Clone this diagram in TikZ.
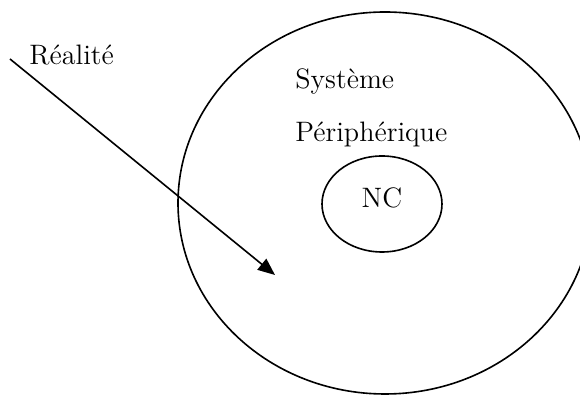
\documentclass[tikz,border=0pt]{standalone}
\usepackage{xcolor}
\usetikzlibrary{arrows.meta,shapes.geometric}
\definecolor{sketchink}{HTML}{000000}

\begin{document}
\begin{tikzpicture}[
  x=1cm,
  y=1cm,
  every node/.style={font=\fontsize{14}{17}\selectfont, sketchink},
  ring/.style={ellipse, draw=sketchink, line width=0.8pt, inner sep=0pt},
  flow/.style={sketchink, line width=0.8pt, -{Triangle[length=8.5pt, width=7pt]}},
  lab/.style={anchor=base west, inner sep=0pt}
]
  % ---- common bounding box, the page of the figure ----
  \useasboundingbox (0,0) rectangle (10.15,6.93);

  % ---- outer ellipse: the peripheral system ----
  \node[ring, minimum width=7.245cm, minimum height=6.685cm] (systeme) at (6.7375,3.3775) {};

  % ---- inner ellipse: the core ----
  \node[ring, minimum width=2.10cm, minimum height=1.68cm, text depth=6.6pt] (nc) at (6.685,3.36) {NC};

  % ---- labels ----
  \node[lab] (realite) at (0.5075,5.7925) {Réalité};
  \node[lab] (sys)     at (5.1625,5.3725) {Système};
  \node[lab] (periph)  at (5.1625,4.445)  {Périphérique};

  % ---- reality entering the system ----
  \coordinate (src) at (0.175,5.8975);
  \coordinate (dst) at (4.8125,2.1175);
  \draw[flow] (src) -- (dst);
\end{tikzpicture}
\end{document}
